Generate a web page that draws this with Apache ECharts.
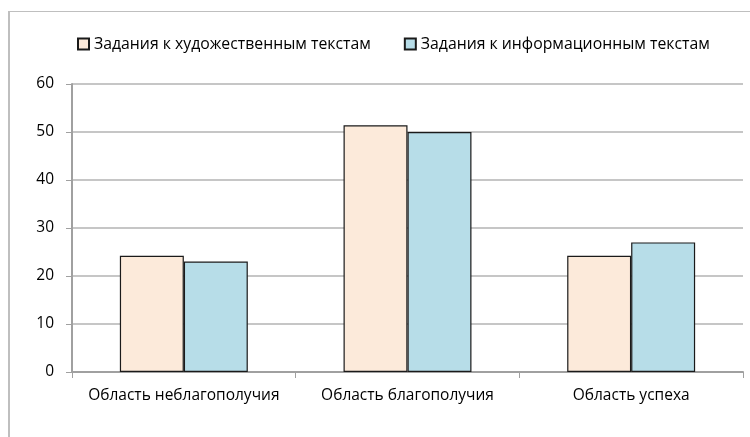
<!DOCTYPE html>
<html>
<head>
<meta charset="utf-8">
<script src="https://cdn.jsdelivr.net/npm/echarts@6/dist/echarts.min.js"></script>
<style>
  html, body { margin: 0; padding: 0; background: #fff; }
  #chart { width: 750px; height: 437px; }
</style>
</head>
<body>
<div id="chart"></div>
<script>
// Categories and values for the two task types
const categories = ['Область неблагополучия', 'Область благополучия', 'Область успеха'];
const seriesNames = ['Задания к художественным текстам', 'Задания к информационным текстам'];
const artisticValues = [24.2, 51.4, 24.2];
const informationalValues = [23, 50, 27];
const yTicks = [0, 10, 20, 30, 40, 50, 60];

const FONT = 'Open Sans';
const chart = echarts.init(document.getElementById('chart'));

chart.setOption({
  backgroundColor: '#fff',
  animation: false,
  textStyle: { fontFamily: FONT },
  legend: {
    top: 31,
    left: 72,
    itemGap: 33,
    itemWidth: 11,
    itemHeight: 11,
    icon: 'rect',
    textStyle: { fontFamily: FONT, fontSize: 15.8, color: '#000' },
    data: seriesNames
  },
  grid: { left: 72, right: 7, top: 84, bottom: 65, containLabel: false },
  xAxis: {
    type: 'category',
    data: categories,
    axisLine: { lineStyle: { color: '#a0a0a0', width: 2 } },
    axisTick: { show: true, interval: 0, length: 6, alignWithLabel: false, lineStyle: { color: '#a0a0a0', width: 1 } },
    axisLabel: { interval: 0, color: '#000', fontSize: 15.5, margin: 16, fontFamily: FONT }
  },
  yAxis: {
    type: 'value',
    min: yTicks[0],
    max: yTicks[yTicks.length - 1],
    interval: 10,
    axisLine: { show: true, lineStyle: { color: '#a0a0a0', width: 2 } },
    axisTick: { show: true, length: 6, lineStyle: { color: '#a0a0a0' } },
    axisLabel: { color: '#000', fontSize: 15.5, margin: 18, fontFamily: FONT },
    splitLine: { lineStyle: { color: '#b3b3b3', width: 1.5 } }
  },
  series: [
    {
      name: seriesNames[0],
      type: 'bar',
      data: artisticValues,
      barWidth: '28.6%',
      barGap: '0%',
      itemStyle: { color: '#FCEADA', borderColor: '#1a1a1a', borderWidth: 1.2 }
    },
    {
      name: seriesNames[1],
      type: 'bar',
      data: informationalValues,
      barWidth: '28.6%',
      itemStyle: { color: '#B7DDE8', borderColor: '#1a1a1a', borderWidth: 1.2 }
    }
  ],
  graphic: [
    { type: 'line', shape: { x1: 9, y1: 11, x2: 9, y2: 437 }, style: { stroke: '#bfbfbf', lineWidth: 2 } },
    { type: 'line', shape: { x1: 8, y1: 11.5, x2: 750, y2: 11.5 }, style: { stroke: '#bfbfbf', lineWidth: 1 } }
  ]
});
</script>
</body>
</html>
